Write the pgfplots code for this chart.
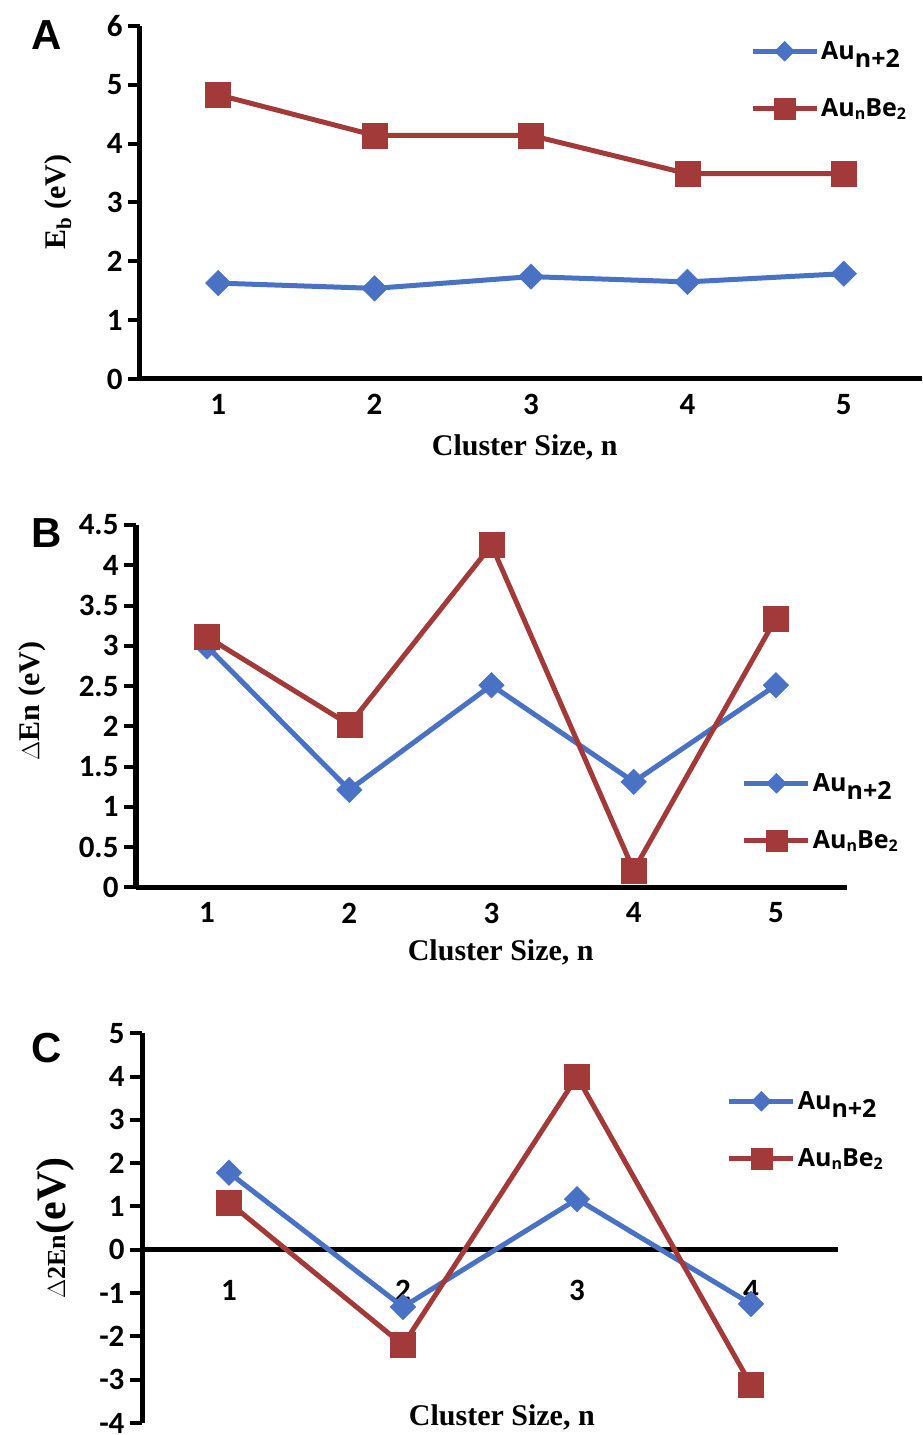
\documentclass[border=0pt]{standalone}
\usepackage{pgfplots}
\pgfplotsset{compat=1.18}
\usepackage{fontspec}
\setmainfont{Liberation Serif}
\newfontfamily\tickfont{Carlito}
\newfontfamily\legfont{Open Sans}
\newfontfamily\letterfont{Liberation Sans}
\definecolor{cblue}{HTML}{4A72C4}
\definecolor{cred}{HTML}{A33A3A}
\newcommand{\aunn}{Au\raisebox{-8pt}{n+2}}
\newcommand{\aube}{Au\raisebox{-3pt}{\fontsize{16}{16}\selectfont n}Be\raisebox{-3pt}{\fontsize{16}{16}\selectfont 2}}
\pgfplotsset{
  panel/.style={
    scale only axis, clip=false,
    axis line style={line width=5pt, black, -},
    tick align=outside, major tick length=12pt,
    ytick style={line width=4pt, black},
    xtick style={draw=none},
    tick label style={font=\tickfont\bfseries\fontsize{31}{31}\selectfont},
    yticklabel style={xshift=-2pt},
    xlabel style={font=\bfseries\fontsize{30}{30}\selectfont, anchor=center},
    ylabel style={font=\bfseries\fontsize{30}{30}\selectfont, anchor=center},
    legend cell align=left,
    legend style={draw=none, fill=none, inner sep=0pt, row sep=34pt, anchor=north west,
       font=\legfont\bfseries\fontsize{25}{25}\selectfont},
    legend image code/.code={\draw[mark repeat=2,mark phase=2,##1] plot coordinates {(0pt,0pt) (32pt,0pt) (64pt,0pt)};},
  },
  sblue/.style={color=cblue, line width=5pt, mark=square*, mark size=9pt,
    mark options={solid, rotate=45, fill=cblue, draw=cblue, line width=0.5pt},
    legend image post style={mark size=7pt}},
  sred/.style={color=cred, line width=5pt, mark=square*, mark size=12.5pt,
    mark options={solid, fill=cred, draw=cred, line width=0.5pt},
    legend image post style={mark size=10.5pt}},
}
\begin{document}
\begin{tikzpicture}[x=1pt,y=1pt]
\useasboundingbox (0,0) rectangle (922,1435);
% ---------- A ----------
\begin{axis}[panel, at={(140pt,1056pt)}, anchor=south west, width=782pt, height=353pt,
  axis lines*=left, xmin=0.5, xmax=5.5, ymin=0, ymax=6,
  xtick={1,2,3,4,5}, xticklabels={1,2,3,4,5},
  ytick={0,1,2,3,4,5,6}, yticklabels={0,1,2,3,4,5,6},
  xlabel={Cluster Size, n}, xlabel style={at={(axis description cs:0.492,-0.195)}},
  ylabel={E\textsubscript{b} (eV)}, ylabel style={at={(axis description cs:-0.105,0.501)}},
  legend style={at={(axis description cs:0.78,0.962)}},
]
\addplot[sblue] coordinates {(1,1.63) (2,1.54) (3,1.74) (4,1.65) (5,1.79)};
\addlegendentry{\aunn}
\addplot[sred] coordinates {(1,4.83) (2,4.14) (3,4.14) (4,3.49) (5,3.49)};
\addlegendentry{\aube}
\end{axis}
% ---------- B ----------
\begin{axis}[panel, at={(136pt,547.7pt)}, anchor=south west, width=711pt, height=362.3pt,
  axis lines*=left, xmin=0.5, xmax=5.5, ymin=0, ymax=4.5,
  xtick={1,2,3,4,5}, xticklabels={1,2,3,4,5},
  ytick={0,0.5,1,1.5,2,2.5,3,3.5,4,4.5}, yticklabels={0,0.5,1,1.5,2,2.5,3,3.5,4,4.5},
  xlabel={Cluster Size, n}, xlabel style={at={(axis description cs:0.513,-0.179)}},
  ylabel={$\Delta$En (eV)}, ylabel style={at={(axis description cs:-0.146,0.514)}},
  legend style={at={(axis description cs:0.852,0.32)}},
]
\addplot[sblue] coordinates {(1,2.99) (2,1.21) (3,2.51) (4,1.31) (5,2.51)};
\addlegendentry{\aunn}
\addplot[sred] coordinates {(1,3.11) (2,2.02) (3,4.25) (4,0.21) (5,3.34)};
\addlegendentry{\aube}
\end{axis}
% ---------- C ----------
\begin{axis}[panel, at={(142pt,12pt)}, anchor=south west, width=696pt, height=389.7pt,
  axis x line*=middle, axis y line*=left, hide obscured y ticks=false, hide obscured x ticks=false,
  xmin=0.5, xmax=4.5, ymin=-4, ymax=5,
  xtick={1,2,3,4}, xticklabels={1,2,3,4},
  ytick={-4,-3,-2,-1,0,1,2,3,4,5}, yticklabels={-4,-3,-2,-1,0,1,2,3,4,5},
  xticklabel style={yshift=-15pt},
  xlabel={Cluster Size, n}, xlabel style={at={(axis description cs:0.517,0.015)}},
  ylabel={{\fontsize{26}{26}\selectfont $\Delta$2En}{\fontsize{42}{42}\selectfont (eV)}},
  ylabel style={at={(axis description cs:-0.125,0.50)}},
  legend style={at={(axis description cs:0.84,0.856)}},
]
\addplot[sblue] coordinates {(1,1.78) (2,-1.32) (3,1.17) (4,-1.25)};
\addlegendentry{\aunn}
\addplot[sred] coordinates {(1,1.09) (2,-2.2) (3,4.0) (4,-3.12)};
\addlegendentry{\aube}
\end{axis}
% panel letters
\node[font=\letterfont\bfseries\fontsize{42}{42}\selectfont] at (47,1400) {A};
\node[font=\letterfont\bfseries\fontsize{42}{42}\selectfont] at (47,902) {B};
\node[font=\letterfont\bfseries\fontsize{42}{42}\selectfont] at (47,387) {C};
\end{tikzpicture}
\end{document}
